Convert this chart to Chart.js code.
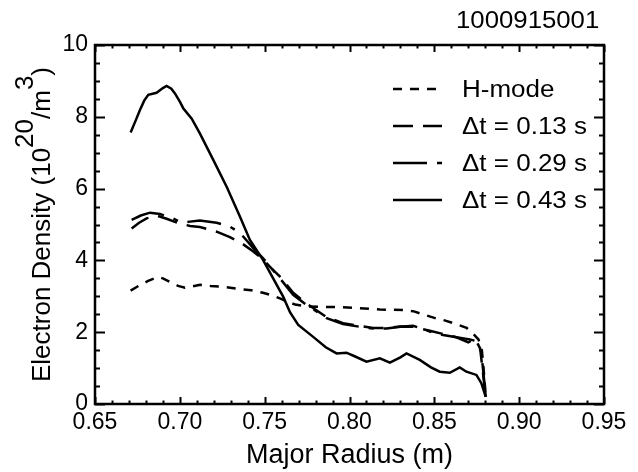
<!DOCTYPE html>
<html>
<head>
<meta charset="utf-8">
<script src="https://cdn.jsdelivr.net/npm/chart.js@4.4.1/dist/chart.umd.min.js"></script>
<style>
  html, body { margin: 0; padding: 0; background: #fff; }
  #wrap { width: 638px; height: 472px; position: relative; }
</style>
</head>
<body>
<div id="wrap"><canvas id="perfilChart" width="638" height="472"></canvas></div>
<script>
// Datos (radio mayor en m, densidad en 10^20/m^3)
const radioHmode = [0.671, 0.676, 0.681, 0.687, 0.690, 0.695, 0.699, 0.703, 0.707, 0.712, 0.718, 0.725, 0.735, 0.742, 0.749, 0.755, 0.759, 0.764, 0.768, 0.775, 0.785, 0.795, 0.806, 0.818, 0.832, 0.838, 0.843, 0.850, 0.856, 0.862, 0.869, 0.873, 0.876, 0.878, 0.879, 0.880];
const densHmode = [3.16, 3.30, 3.42, 3.54, 3.50, 3.38, 3.29, 3.24, 3.27, 3.32, 3.29, 3.27, 3.20, 3.17, 3.10, 3.02, 2.94, 2.84, 2.77, 2.72, 2.70, 2.70, 2.67, 2.63, 2.62, 2.58, 2.50, 2.40, 2.33, 2.24, 2.12, 1.95, 1.80, 1.50, 1.00, 0.40];

const radio013 = [0.6716, 0.6760, 0.6804, 0.6863, 0.6922, 0.6990, 0.7060, 0.7118, 0.7217, 0.7295, 0.7364, 0.7433, 0.7491, 0.7540, 0.7590, 0.7668, 0.7747, 0.7865, 0.7962, 0.8061, 0.8139, 0.8218, 0.8300, 0.8375, 0.8473, 0.8552, 0.8630, 0.8700, 0.8740, 0.8770, 0.8803];
const dens013 = [4.89, 5.05, 5.17, 5.25, 5.16, 5.04, 4.96, 4.93, 4.80, 4.65, 4.48, 4.25, 4.02, 3.78, 3.55, 3.10, 2.80, 2.42, 2.25, 2.17, 2.12, 2.12, 2.16, 2.15, 2.04, 1.95, 1.86, 1.72, 1.82, 1.55, 0.20];

const radio029 = [0.6716, 0.6770, 0.6824, 0.6883, 0.6961, 0.7011, 0.7060, 0.7118, 0.7217, 0.7295, 0.7354, 0.7433, 0.7491, 0.7540, 0.7590, 0.7668, 0.7747, 0.7865, 0.7962, 0.8061, 0.8139, 0.8218, 0.8300, 0.8375, 0.8473, 0.8552, 0.8630, 0.8709, 0.8748, 0.8777, 0.8803];
const dens029 = [5.13, 5.25, 5.33, 5.29, 5.17, 5.05, 5.08, 5.11, 5.05, 4.94, 4.77, 4.34, 4.06, 3.78, 3.50, 3.04, 2.76, 2.39, 2.23, 2.15, 2.10, 2.10, 2.15, 2.18, 2.02, 1.92, 1.86, 1.80, 1.75, 1.45, 0.20];

const radio043 = [0.671, 0.674, 0.6765, 0.679, 0.6814, 0.6863, 0.690, 0.6922, 0.6950, 0.6971, 0.700, 0.702, 0.707, 0.7118, 0.7197, 0.7276, 0.7354, 0.7413, 0.7491, 0.7550, 0.7609, 0.7650, 0.7698, 0.7786, 0.7860, 0.7924, 0.7982, 0.8030, 0.8100, 0.8179, 0.8238, 0.8300, 0.8336, 0.8414, 0.8480, 0.8532, 0.8591, 0.8650, 0.8689, 0.8748, 0.8777, 0.8803];
const dens043 = [7.56, 7.90, 8.19, 8.45, 8.61, 8.67, 8.80, 8.86, 8.78, 8.65, 8.42, 8.24, 7.95, 7.54, 6.80, 6.05, 5.22, 4.57, 4.01, 3.50, 2.99, 2.55, 2.20, 1.87, 1.58, 1.41, 1.43, 1.33, 1.18, 1.27, 1.15, 1.30, 1.41, 1.23, 1.02, 0.90, 0.87, 1.02, 0.90, 0.81, 0.58, 0.20];

const etiquetas = ['H-mode', '\u0394t = 0.13 s', '\u0394t = 0.29 s', '\u0394t = 0.43 s'];
const trazos = [[9, 8], [20, 10], [34, 10, 5, 10], []];
const xTicks = [0.65, 0.70, 0.75, 0.80, 0.85, 0.90, 0.95];
const yTicks = [0, 2, 4, 6, 8, 10];
const numeroDisparo = '1000915001';

function puntos(xs, ys) {
    return xs.map((x, i) => ({ x: x, y: ys[i] }));
}

const series = [
    puntos(radioHmode, densHmode),
    puntos(radio013, dens013),
    puntos(radio029, dens029),
    puntos(radio043, dens043)
];

const FONT = '"Liberation Sans", Arial, sans-serif';

// texto un poco ensanchado, como el de la figura original
function textoAncho(ctx, txt, x, y, escala) {
    ctx.save();
    ctx.translate(x, y);
    ctx.scale(escala, 1);
    ctx.fillText(txt, 0, 0);
    ctx.restore();
}

// Marco, marcas internas, leyenda y textos al estilo IDL
const decoracion = {
    id: 'decoracion',
    afterDraw(chart) {
        const ctx = chart.ctx;
        const a = chart.chartArea;
        const sx = chart.scales.x;
        const sy = chart.scales.y;
        ctx.save();
        ctx.strokeStyle = '#000';
        ctx.lineWidth = 2.5;
        ctx.strokeRect(a.left, a.top, a.right - a.left, a.bottom - a.top);

        ctx.lineWidth = 2;
        ctx.beginPath();
        for (let i = 0; i <= 30; i++) {
            const v = 0.65 + i * 0.01;
            const px = Math.round(sx.getPixelForValue(v)) + 0.5;
            const len = (i % 5 === 0) ? 7 : 3.5;
            ctx.moveTo(px, a.bottom); ctx.lineTo(px, a.bottom - len);
            ctx.moveTo(px, a.top); ctx.lineTo(px, a.top + len);
        }
        for (let i = 0; i <= 20; i++) {
            const v = i * 0.5;
            const py = Math.round(sy.getPixelForValue(v)) + 0.5;
            const len = (i % 4 === 0) ? 10 : 5;
            ctx.moveTo(a.left, py); ctx.lineTo(a.left + len, py);
            ctx.moveTo(a.right, py); ctx.lineTo(a.right - len, py);
        }
        ctx.stroke();

        // leyenda
        const filas = [89, 126, 163, 200];
        ctx.fillStyle = '#000';
        ctx.font = '23px ' + FONT;
        ctx.textBaseline = 'alphabetic';
        ctx.textAlign = 'left';
        etiquetas.forEach((txt, i) => {
            ctx.beginPath();
            ctx.lineWidth = 2.5;
            ctx.setLineDash(trazos[i]);
            ctx.moveTo(393, filas[i]);
            ctx.lineTo(442, filas[i]);
            ctx.stroke();
            ctx.setLineDash([]);
            textoAncho(ctx, txt, 462, filas[i] + 8, 1.13);
        });

        // numero de disparo
        textoAncho(ctx, numeroDisparo, 456, 28, 1.12);

        // titulo eje x
        ctx.font = '27px ' + FONT;
        ctx.textAlign = 'center';
        ctx.fillText('Major Radius (m)', (a.left + a.right) / 2, 463);

        // titulo eje y con superindices
        const partes = [
            ['Electron Density (10', 0], ['20', 1], ['/m', 0], ['3', 1], [')', 0]
        ];
        ctx.font = '26px ' + FONT;
        let total = 0;
        partes.forEach(p => { total += ctx.measureText(p[0]).width; });
        ctx.translate(50, (a.top + a.bottom) / 2);
        ctx.rotate(-Math.PI / 2);
        ctx.textAlign = 'left';
        let x = -total / 2;
        partes.forEach(p => {
            ctx.fillText(p[0], x, p[1] ? -17 : 0);
            x += ctx.measureText(p[0]).width;
        });
        ctx.restore();
    }
};

const ctx = document.getElementById('perfilChart').getContext('2d');
const perfilChart = new Chart(ctx, {
    type: 'scatter',
    data: {
        datasets: series.map((d, i) => ({
            label: etiquetas[i],
            data: d,
            showLine: true,
            borderColor: '#000',
            backgroundColor: '#000',
            borderWidth: 2.5,
            borderDash: trazos[i],
            pointRadius: 0,
            tension: 0
        }))
    },
    options: {
        responsive: false,
        animation: false,
        layout: { padding: { left: 0, right: 34, top: 45, bottom: 0 } },
        plugins: { legend: { display: false }, tooltip: { enabled: false } },
        scales: {
            x: {
                type: 'linear',
                min: 0.65,
                max: 0.95,
                afterFit(scale) { scale.height = 68; },
                afterBuildTicks(scale) { scale.ticks = xTicks.map(v => ({ value: v })); },
                grid: { display: false, drawTicks: false },
                border: { display: false },
                ticks: {
                    color: '#000',
                    padding: 5,
                    maxRotation: 0,
                    autoSkip: false,
                    font: { family: FONT, size: 23 },
                    callback: v => v.toFixed(2)
                }
            },
            y: {
                type: 'linear',
                min: 0,
                max: 10,
                afterFit(scale) { scale.width = 95; },
                afterBuildTicks(scale) { scale.ticks = yTicks.map(v => ({ value: v })); },
                grid: { display: false, drawTicks: false },
                border: { display: false },
                ticks: {
                    color: '#000',
                    padding: 7,
                    font: { family: FONT, size: 23 },
                    callback: v => String(v)
                }
            }
        }
    },
    plugins: [decoracion]
});
</script>
</body>
</html>
